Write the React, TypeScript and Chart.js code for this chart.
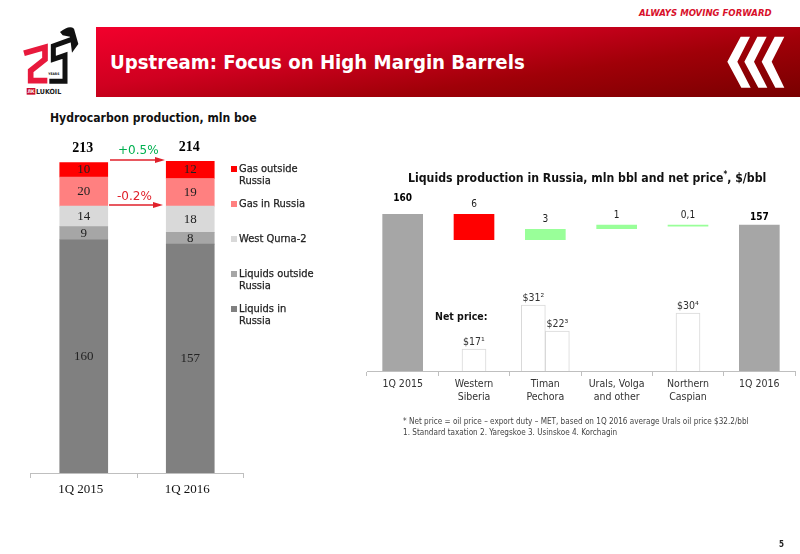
import { useEffect, useRef } from 'react';
import { Chart, registerables } from 'chart.js';

Chart.register(...registerables);

const SANS = '"DejaVu Sans Condensed", "DejaVu Sans", sans-serif';
const SERIF = '"Liberation Serif", serif';

// left chart, mln boe
const quarters = ['1Q 2015', '1Q 2016'];
const liquidsRussia = [160, 157];
const liquidsAbroad = [9, 8];
const westQurna = [14, 18];
const gasRussia = [20, 19];
const gasAbroad = [10, 12];
const totals = [213, 214];

const legendRows = [
  { label: 'Gas outside\nRussia', color: '#ff0000', top: 163 },
  { label: 'Gas in Russia', color: '#ff8080', top: 198 },
  { label: 'West Qurna-2', color: '#d9d9d9', top: 233 },
  { label: 'Liquids outside\nRussia', color: '#a6a6a6', top: 268 },
  { label: 'Liquids in\nRussia', color: '#808080', top: 303 },
];

const regions = [
  '1Q 2015',
  ['Western', 'Siberia'],
  ['Timan', 'Pechora'],
  ['Urals, Volga', 'and other'],
  ['Northern', 'Caspian'],
  '1Q 2016',
];
const bridgeMin = 117.2;
const bridgeLow = [bridgeMin, 153, 153, 156, 156.7, bridgeMin];
const bridgeHigh = [160, 160, 155.8, 157, 157, 157];
const bridgeLabels = ['160', '6', '3', '1', '0,1', '157'];
const bridgeColors = ['#a6a6a6', '#ff0000', '#99ff99', '#99ff99', '#99ff99', '#a6a6a6'];
const priceFirst = [null, 11, 33, null, 29, null];
const priceSecond = [null, null, 20, null, null, null];
const priceFirstLabels = ['', '$17¹', '$31²', '', '$30⁴', ''];
const priceSecondLabels = ['', '', '$22³', '', '', ''];

const stackLabels = {
  id: 'stackLabels',
  afterDatasetsDraw(chart: Chart) {
    const { ctx } = chart;
    ctx.save();
    ctx.textAlign = 'center';
    ctx.textBaseline = 'middle';
    ctx.fillStyle = '#222';
    ctx.font = `13px ${SERIF}`;
    chart.data.datasets.forEach((ds, i) => {
      chart.getDatasetMeta(i).data.forEach((bar: any, j) => {
        ctx.fillText(String(ds.data[j]), bar.x, (bar.y + bar.base) / 2);
      });
    });
    ctx.fillStyle = '#000';
    ctx.font = `bold 14px ${SERIF}`;
    const top = chart.getDatasetMeta(chart.data.datasets.length - 1).data;
    totals.forEach((t, j) => ctx.fillText(String(t), top[j].x - 1, top[j].y - 14));
    ctx.restore();
  },
};

const bridgeText = {
  id: 'bridgeText',
  afterDatasetsDraw(chart: Chart) {
    const { ctx } = chart;
    ctx.save();
    ctx.textAlign = 'center';
    ctx.textBaseline = 'middle';
    chart.getDatasetMeta(0).data.forEach((bar: any, j) => {
      const bold = j === 0 || j === 5;
      ctx.font = `${bold ? 'bold ' : ''}10px ${SANS}`;
      ctx.fillStyle = bold ? '#000' : '#222';
      ctx.fillText(bridgeLabels[j], bar.x, bar.y - (j === 0 ? 16 : j === 5 ? 8 : 10));
    });
    ctx.restore();
  },
};

const priceText = {
  id: 'priceText',
  afterDatasetsDraw(chart: Chart) {
    const { ctx } = chart;
    ctx.save();
    ctx.textAlign = 'center';
    ctx.textBaseline = 'middle';
    ctx.font = `10.5px ${SANS}`;
    ctx.fillStyle = '#333';
    [priceFirstLabels, priceSecondLabels].forEach((labels, k) => {
      chart.getDatasetMeta(k).data.forEach((bar: any, j) => {
        if (labels[j]) ctx.fillText(labels[j], bar.x, bar.y - 7);
      });
    });
    ctx.restore();
  },
};

function StackChart() {
  const ref = useRef<HTMLCanvasElement>(null);

  useEffect(() => {
    if (!ref.current) return;
    const bar = { barThickness: 48 };
    const chart = new Chart(ref.current, {
      type: 'bar',
      data: {
        labels: quarters,
        datasets: [
          { label: 'Liquids in Russia', data: liquidsRussia, backgroundColor: '#808080', ...bar },
          { label: 'Liquids outside Russia', data: liquidsAbroad, backgroundColor: '#a6a6a6', ...bar },
          { label: 'West Qurna-2', data: westQurna, backgroundColor: '#d9d9d9', ...bar },
          { label: 'Gas in Russia', data: gasRussia, backgroundColor: '#ff8080', ...bar },
          { label: 'Gas outside Russia', data: gasAbroad, backgroundColor: '#ff0000', ...bar },
        ],
      },
      options: {
        animation: false,
        responsive: false,
        layout: { padding: { left: 10.5, right: 16.5, top: 31, bottom: 0 } },
        plugins: { legend: { display: false }, tooltip: { enabled: false } },
        scales: {
          x: {
            stacked: true,
            afterFit: (s: any) => { s.height = 30; },
            grid: { drawOnChartArea: false, color: '#bfbfbf', tickLength: 5 },
            border: { color: '#bfbfbf' },
            ticks: { color: '#111', font: { family: SERIF, size: 13 }, padding: 4, maxRotation: 0, labelOffset: -3 },
          },
          y: { stacked: true, display: false, min: 0, max: 214 },
        },
      },
      plugins: [stackLabels],
    });
    return () => chart.destroy();
  }, []);

  return <canvas ref={ref} width={240} height={373} style={{ position: 'absolute', left: 20, top: 130 }} />;
}

function BridgeChart() {
  const ref = useRef<HTMLCanvasElement>(null);

  useEffect(() => {
    if (!ref.current) return;
    const chart = new Chart(ref.current, {
      type: 'bar',
      data: {
        labels: regions,
        datasets: [
          {
            label: 'Liquids production',
            data: bridgeHigh.map((h, i) => [bridgeLow[i], h]),
            backgroundColor: bridgeColors,
            barThickness: 40,
          },
        ] as any,
      },
      options: {
        animation: false,
        responsive: false,
        layout: { padding: { left: 12, right: 5, top: 24, bottom: 0 } },
        plugins: { legend: { display: false }, tooltip: { enabled: false } },
        scales: {
          x: {
            afterFit: (s: any) => { s.height = 36; },
            grid: { drawOnChartArea: false, color: '#bfbfbf', tickLength: 5 },
            border: { color: '#bfbfbf' },
            ticks: { color: '#333', font: { family: SANS, size: 10.5 }, padding: 2, maxRotation: 0, autoSkip: false },
          },
          y: { display: false, min: bridgeMin, max: 160 },
        },
      },
      plugins: [bridgeText],
    });
    return () => chart.destroy();
  }, []);

  return <canvas ref={ref} width={445} height={217} style={{ position: 'absolute', left: 355, top: 190 }} />;
}

// net price bars sit on their own scale, over the bridge
function PriceChart() {
  const ref = useRef<HTMLCanvasElement>(null);

  useEffect(() => {
    if (!ref.current) return;
    const price = {
      backgroundColor: '#ffffff',
      borderColor: '#d9d9d9',
      borderWidth: 1,
      barThickness: 24,
      skipNull: true,
    };
    const chart = new Chart(ref.current, {
      type: 'bar',
      data: {
        labels: regions,
        datasets: [
          { ...price, label: 'Net price', data: priceFirst },
          { ...price, label: 'Net price, second field', data: priceSecond },
        ] as any,
      },
      options: {
        animation: false,
        responsive: false,
        layout: { padding: { left: 12, right: 5, top: 24, bottom: 36 } },
        plugins: { legend: { display: false }, tooltip: { enabled: false } },
        scales: {
          x: { display: false },
          y: { display: false, min: 0, max: 78.5 },
        },
      },
      plugins: [priceText],
    });
    return () => chart.destroy();
  }, []);

  return <canvas ref={ref} width={445} height={217} style={{ position: 'absolute', left: 355, top: 190 }} />;
}

function Logo() {
  return (
    <svg width={90} height={85} viewBox="0 0 270 255" style={{ position: 'absolute', left: 10, top: 20 }}>
      <path d="M42 100 L105 82 L105 118 L62 152 L62 182 L112 182" fill="none" stroke="#e8193c" strokeWidth={17} />
      <path d="M118 184 L165 184 L165 106 L130 118 L130 78 L185 58" fill="none" stroke="#111" strokeWidth={15} />
      <path d="M150 36 Q178 14 192 26 L205 72 L186 98 L180 50 L158 46 Z" fill="#111" />
      <text x={115} y={166} fontSize={10} fontWeight="bold" fontFamily={SANS} fill="#111">YEARS</text>
      <rect x={50} y={204} width={26} height={20} fill="#c8102e" />
      <text x={63} y={219} fontSize={14} fontWeight="bold" fontFamily={SANS} fill="#fff" textAnchor="middle">ЛК</text>
      <text x={78} y={222} fontSize={21} fontWeight="bold" fontFamily={SANS} fill="#222">LUKOIL</text>
    </svg>
  );
}

function Chevrons() {
  return (
    <svg width={100} height={75} viewBox="0 0 300 225" style={{ position: 'absolute', left: 700, top: 25 }}>
      <g fill="#fff">
        <polygon points="122,35 150,35 112,110 152,188 124,188 82,110" />
        <polygon points="172,35 200,35 162,110 202,188 175,188 133,110" />
        <polygon points="224,35 253,35 215,110 253,188 226,188 185,110" />
      </g>
    </svg>
  );
}

function Arrow({ x1, x2, y }: { x1: number; x2: number; y: number }) {
  return (
    <g>
      <line x1={x1} x2={x2 - 8} y1={y} y2={y} stroke="#e0212b" strokeWidth={1.6} />
      <polygon points={`${x2 - 10},${y - 3} ${x2},${y} ${x2 - 10},${y + 3}`} fill="#e0212b" />
    </g>
  );
}

const text = (left: number, top: number, extra: object = {}) => ({
  position: 'absolute' as const,
  left,
  top,
  whiteSpace: 'pre' as const,
  fontFamily: SANS,
  lineHeight: 1,
  ...extra,
});

export default function App() {
  return (
    <div style={{ position: 'relative', width: 800, height: 554, overflow: 'hidden', background: '#fff' }}>
      <style>{'body{margin:0}'}</style>
      <div style={text(639, 8, { fontSize: 9.5, fontWeight: 'bold', fontStyle: 'italic', color: '#d8102a' })}>ALWAYS MOVING FORWARD</div>
      <div
        style={{
          position: 'absolute',
          left: 96,
          top: 27,
          width: 704,
          height: 70,
          background: 'linear-gradient(172deg, #f2002c 0%, #d00020 35%, #a00008 65%, #780000 100%)',
        }}
      />
      <div style={text(110, 52, { fontSize: 20.2, fontWeight: 'bold', color: '#fff' })}>Upstream: Focus on High Margin Barrels</div>
      <Chevrons />
      <Logo />

      <div style={text(50, 112, { fontSize: 12.1, fontWeight: 'bold', color: '#111' })}>Hydrocarbon production, mln boe</div>
      <StackChart />
      <svg width={800} height={554} style={{ position: 'absolute', left: 0, top: 0, pointerEvents: 'none' }}>
        <Arrow x1={110} x2={165} y={160} />
        <Arrow x1={109} x2={163} y={205} />
      </svg>
      <div style={text(118, 144, { fontSize: 12, color: '#00b050', fontFamily: 'DejaVu Sans' })}>+0.5%</div>
      <div style={text(117, 190, { fontSize: 12, color: '#e0212b', fontFamily: 'DejaVu Sans' })}>-0.2%</div>

      {legendRows.map((r) => (
        <div key={r.label}>
          <div style={{ position: 'absolute', left: 231, top: r.top + 3, width: 6, height: 6, background: r.color }} />
          <div style={text(239, r.top, { fontSize: 11, lineHeight: '12px', color: '#222', WebkitTextStroke: '0.25px #222' })}>{r.label}</div>
        </div>
      ))}

      <div style={text(408, 172, { fontSize: 12.2, fontWeight: 'bold', color: '#111' })}>
        Liquids production in Russia, mln bbl and net price<sup style={{ fontSize: 8, lineHeight: 0 }}>*</sup>, $/bbl
      </div>
      <BridgeChart />
      <PriceChart />
      <div style={text(435, 311, { fontSize: 10.5, fontWeight: 'bold', color: '#111' })}>Net price:</div>

      <div style={text(403, 416, { fontSize: 8.1, lineHeight: '10.5px', color: '#444' })}>
        {'* Net price = oil price – export duty – MET, based on 1Q 2016 average Urals oil price $32.2/bbl\n1. Standard taxation 2. Yaregskoe 3. Usinskoe 4. Korchagin'}
      </div>
      <div style={text(779, 541, { fontSize: 8, fontWeight: 'bold', color: '#222' })}>5</div>
    </div>
  );
}
